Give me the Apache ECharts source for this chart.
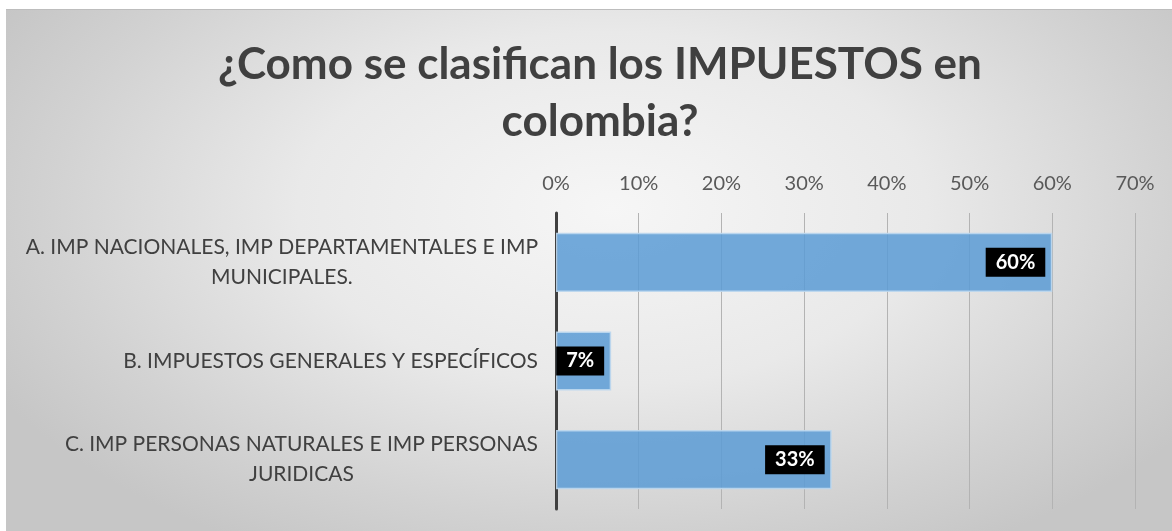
<!DOCTYPE html>
<html>
<head>
<meta charset="utf-8">
<script src="https://cdn.jsdelivr.net/npm/echarts@6/dist/echarts.min.js"></script>
<style>
  html, body { margin: 0; padding: 0; background: #ffffff; }
  #box {
    position: absolute; left: 6px; top: 9px; width: 1166px; height: 522px;
    border-top: 1px solid #bdbdbd;
    background: radial-gradient(ellipse 60% 75% at 52% 38%, #f6f6f6 0%, #e9e9e9 45%, #d2d2d2 80%, #c6c6c6 100%);
  }
  #chart { width: 1166px; height: 522px; }
</style>
</head>
<body>
<div id="box"><div id="chart"></div></div>
<script>
  // categorias (eje vertical)
  var categorias = [
    'A. IMP NACIONALES, IMP DEPARTAMENTALES E IMP\nMUNICIPALES.',
    'B. IMPUESTOS GENERALES Y ESPECÍFICOS',
    'C. IMP PERSONAS NATURALES E IMP PERSONAS\nJURIDICAS'
  ];
  // porcentaje de respuestas
  var valores = [0.60, 0.0667, 0.3333];
  // marcas del eje superior
  var ticks = [0, 0.1, 0.2, 0.3, 0.4, 0.5, 0.6, 0.7];

  var fuente = 'Lato, "Open Sans", sans-serif';

  var myChart = echarts.init(document.getElementById('chart'));
  myChart.setOption({
    backgroundColor: 'transparent',
    title: {
      text: '¿Como se clasifican los IMPUESTOS en\ncolombia?',
      left: 589,
      top: 21,
      textAlign: 'center',
      textStyle: {
        fontFamily: fuente,
        fontWeight: 'bold',
        fontSize: 44,
        lineHeight: 57,
        color: '#404040'
      }
    },
    grid: {
      left: 550,
      right: 37,
      top: 203,
      bottom: 23,
      containLabel: false
    },
    xAxis: {
      type: 'value',
      position: 'top',
      min: ticks[0],
      max: ticks[ticks.length - 1],
      interval: 0.1,
      axisLine: { show: false },
      axisTick: { show: false },
      splitLine: { show: true, lineStyle: { color: '#b3b3b3', width: 1 } },
      axisLabel: {
        margin: 19,
        fontFamily: fuente,
        fontSize: 20,
        color: '#595959',
        formatter: function (v) { return Math.round(v * 100) + '%'; }
      }
    },
    yAxis: {
      type: 'category',
      inverse: true,
      data: categorias,
      axisLine: { show: true, lineStyle: { color: '#404040', width: 3 } },
      axisTick: { show: false },
      axisLabel: {
        margin: 18,
        formatter: function (v) {
          return v.split('\n').map(function (l) { return '{c|' + l + '}'; }).join('\n');
        },
        rich: {
          c: {
            align: 'center',
            fontFamily: fuente,
            fontSize: 21,
            lineHeight: 30,
            color: '#404040'
          }
        }
      }
    },
    series: [
      {
        type: 'bar',
        data: valores,
        barCategoryGap: '40%',
        itemStyle: {
          color: 'rgba(91,155,213,0.85)',
          borderColor: 'rgba(189,215,238,0.9)',
          borderWidth: 1.5
        },
        label: {
          show: true,
          position: 'insideRight',
          distance: 7,
          backgroundColor: '#000000',
          color: '#ffffff',
          fontFamily: fuente,
          fontWeight: 'bold',
          fontSize: 20,
          padding: [5, 10, 4, 10],
          formatter: function (p) { return Math.round(p.value * 100) + '%'; }
        }
      }
    ]
  });
</script>
</body>
</html>
